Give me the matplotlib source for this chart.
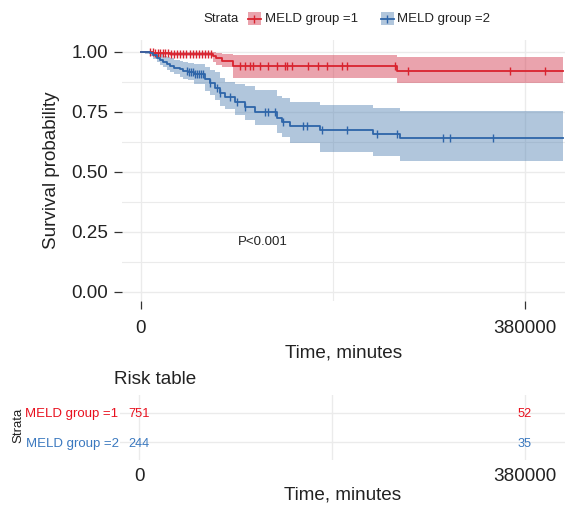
import matplotlib
matplotlib.use("Agg")
import matplotlib.pyplot as plt
import numpy as np
from matplotlib.patches import Rectangle
from matplotlib.lines import Line2D

plt.rcParams['font.family'] = ['Liberation Sans', 'DejaVu Sans']

# ---------------- data ----------------
group_names = ["MELD group =1", "MELD group =2"]
x_end = 418000

g1_time  = [0, 5000, 12000, 20000, 28700, 71500, 74500, 80000, 91400, 253000]
g1_surv  = [1.0, 0.998, 0.996, 0.993, 0.990, 0.980, 0.975, 0.963, 0.940, 0.920]
g1_lower = [1.0, 0.994, 0.990, 0.987, 0.982, 0.955, 0.945, 0.935, 0.892, 0.868]
g1_upper = [1.0, 1.0, 1.0, 0.999, 0.997, 1.0, 0.995, 0.990, 0.986, 0.979]
g1_cens  = [9000, 11500, 14000, 16500, 19000, 21500, 24000, 26500, 30000, 33000,
            36000, 39000, 42000, 45000, 48000, 51000, 54000, 57000, 60000, 63000,
            66000, 69000,
            97970, 102900, 107900, 111200, 117700, 126000, 134250, 142500, 144150,
            149100, 165600, 175500, 183700, 198600, 203500, 251400,
            264500, 365200, 399800]

g2_time  = [0, 4000, 8900, 12000, 15500, 19000, 22100, 25500, 28700, 33000, 38600,
            42000, 46800, 52000, 63300, 68300, 73200, 78200, 83100, 93000, 102900,
            112800, 134300, 139200, 147400, 177100, 229900, 256300]
g2_surv  = [1.0, 0.997, 0.993, 0.985, 0.975, 0.966, 0.958, 0.950, 0.942, 0.934, 0.926,
            0.920, 0.914, 0.907, 0.886, 0.868, 0.850, 0.826, 0.8125, 0.790, 0.771,
            0.750, 0.722, 0.708, 0.692, 0.674, 0.657, 0.642]
g2_lower = [1.0, 0.990, 0.980, 0.968, 0.955, 0.944, 0.935, 0.924, 0.915, 0.905, 0.896,
            0.888, 0.880, 0.865, 0.835, 0.820, 0.800, 0.775, 0.760, 0.735, 0.715,
            0.695, 0.662, 0.645, 0.618, 0.581, 0.567, 0.545]
g2_upper = [1.0, 1.0, 1.0, 1.0, 0.995, 0.990, 0.984, 0.978, 0.972, 0.966, 0.960,
            0.955, 0.952, 0.950, 0.935, 0.925, 0.915, 0.890, 0.875, 0.865, 0.855,
            0.840, 0.815, 0.805, 0.790, 0.778, 0.767, 0.753]
g2_cens  = [45200, 47500, 49500, 51500, 53500, 55500, 57500, 59500, 61700,
            68300, 74900, 78200, 88100, 94700, 102900, 122700, 126000, 132500,
            140800, 160600, 163900, 178700, 203500, 233200, 253000, 299200,
            305800, 348700]

risk_times = [0, 380000]
risk_g1 = [751, 52]
risk_g2 = [244, 35]

x_ticks = [0, 380000]
y_ticks = [0.0, 0.25, 0.5, 0.75, 1.0]
y_tick_labels = ["0.00", "0.25", "0.50", "0.75", "1.00"]
pval_text = "P<0.001"

# ---------------- style ----------------
red_line = '#D9232E'
blue_line = '#2E65A9'
red_band = '#D13349'
blue_band = '#5281B2'
red_text = '#E8101E'
blue_text = '#3A78BF'
grid_c = '#EBEBEB'
txt_c = '#222222'

W, H = 565, 511
fig = plt.figure(figsize=(W / 100, H / 100), dpi=100)

def fx(px):
    return px / W

def fy(py):
    return 1 - py / H

xl = (-18800, 419600)

# main axes
ax = fig.add_axes([fx(122), fy(301), fx(565) - fx(122), fy(39.7) - fy(301)])
ax.set_xlim(*xl)
ax.set_ylim(-0.0388, 1.05)
for s in ax.spines.values():
    s.set_visible(False)
ax.set_yticks(y_ticks)
ax.set_yticklabels(y_tick_labels)
ax.set_yticks([0.125, 0.375, 0.625, 0.875], minor=True)
ax.set_xticks(x_ticks)
ax.set_xticks([190000], minor=True)
ax.grid(True, which='major', color=grid_c, lw=1.0)
ax.grid(True, which='minor', color=grid_c, lw=0.8)
ax.set_axisbelow(True)
ax.tick_params(which='minor', length=0)
ax.tick_params(which='major', length=6, width=0.9, color='#333333',
               labelsize=13.6, labelcolor=txt_c, pad=4)
ax.tick_params(axis='x', which='major', pad=8)


def draw_group(t, s, lo, up, cens, lc, bc):
    tt = list(t) + [x_end]
    ss = list(s) + [s[-1]]
    ll = list(lo) + [lo[-1]]
    uu = list(up) + [up[-1]]
    ax.fill_between(tt, ll, uu, step='post', color=bc, alpha=0.45, lw=0)
    ax.step(tt, ss, where='post', color=lc, lw=1.3)
    tarr = np.array(t)
    sv = [s[np.searchsorted(tarr, c, side='right') - 1] for c in cens]
    ax.plot(cens, sv, ls='none', marker='|', ms=6, mew=1.0, color=lc)


draw_group(g1_time, g1_surv, g1_lower, g1_upper, g1_cens, red_line, red_band)
draw_group(g2_time, g2_surv, g2_lower, g2_upper, g2_cens, blue_line, blue_band)

ax.text(121000, 0.207, pval_text, ha='center', va='center', fontsize=9.5, color=txt_c)
ax.set_ylabel("Survival probability", fontsize=13.6, color=txt_c, labelpad=8)
ax.set_xlabel("Time, minutes", fontsize=13.6, color=txt_c, labelpad=5)

# legend
fig.text(fx(203), fy(19), "Strata", fontsize=9.5, color=txt_c, va='center', ha='left')
for kx, lx, lc, bc, name in [(248, 265, red_line, red_band, group_names[0]),
                             (381, 397, blue_line, blue_band, group_names[1])]:
    fig.add_artist(Rectangle((fx(kx), fy(25.5)), fx(12.5), fy(12.5) - fy(25.5),
                             transform=fig.transFigure, facecolor=bc, alpha=0.45, lw=0))
    fig.add_artist(Line2D([fx(kx), fx(kx + 12.5)], [fy(19), fy(19)],
                          transform=fig.transFigure, color=lc, lw=1.3))
    fig.add_artist(Line2D([fx(kx + 6.25)], [fy(19)], transform=fig.transFigure,
                          color=lc, marker='|', ms=6, mew=1.0, ls='none'))
    fig.text(fx(lx), fy(19), name, fontsize=9.5, color=txt_c, va='center', ha='left')

# risk table
rx = fig.add_axes([fx(120), fy(460), fx(565) - fx(120), fy(395) - fy(460)])
rx.set_xlim(*xl)
rx.set_ylim(0.4, 2.6)
for s in rx.spines.values():
    s.set_visible(False)
rx.set_xticks(x_ticks)
rx.set_xticks([190000], minor=True)
rx.set_yticks([2, 1])
rx.set_yticklabels(group_names)
for lab, c in zip(rx.get_yticklabels(), [red_text, blue_text]):
    lab.set_color(c)
rx.grid(True, which='both', color=grid_c, lw=1.0)
rx.set_axisbelow(True)
rx.tick_params(axis='y', length=0, pad=1, labelsize=9.5)
rx.tick_params(axis='x', which='both', length=0, pad=6, labelsize=13.6, labelcolor=txt_c)
for t, a, b in zip(risk_times, risk_g1, risk_g2):
    rx.text(t, 2, str(a), ha='center', va='center_baseline', fontsize=9.2, color=red_text)
    rx.text(t, 1, str(b), ha='center', va='center_baseline', fontsize=9.2, color=blue_text)
rx.set_xlabel("Time, minutes", fontsize=13.6, color=txt_c, labelpad=1)
fig.text(fx(18), fy(425), "Strata", rotation=90, fontsize=9.5, color=txt_c,
         ha='center', va='center')
fig.text(fx(114), fy(380), "Risk table", fontsize=13.6, color=txt_c, ha='left', va='center')

fig.savefig("out.png", dpi=100)
